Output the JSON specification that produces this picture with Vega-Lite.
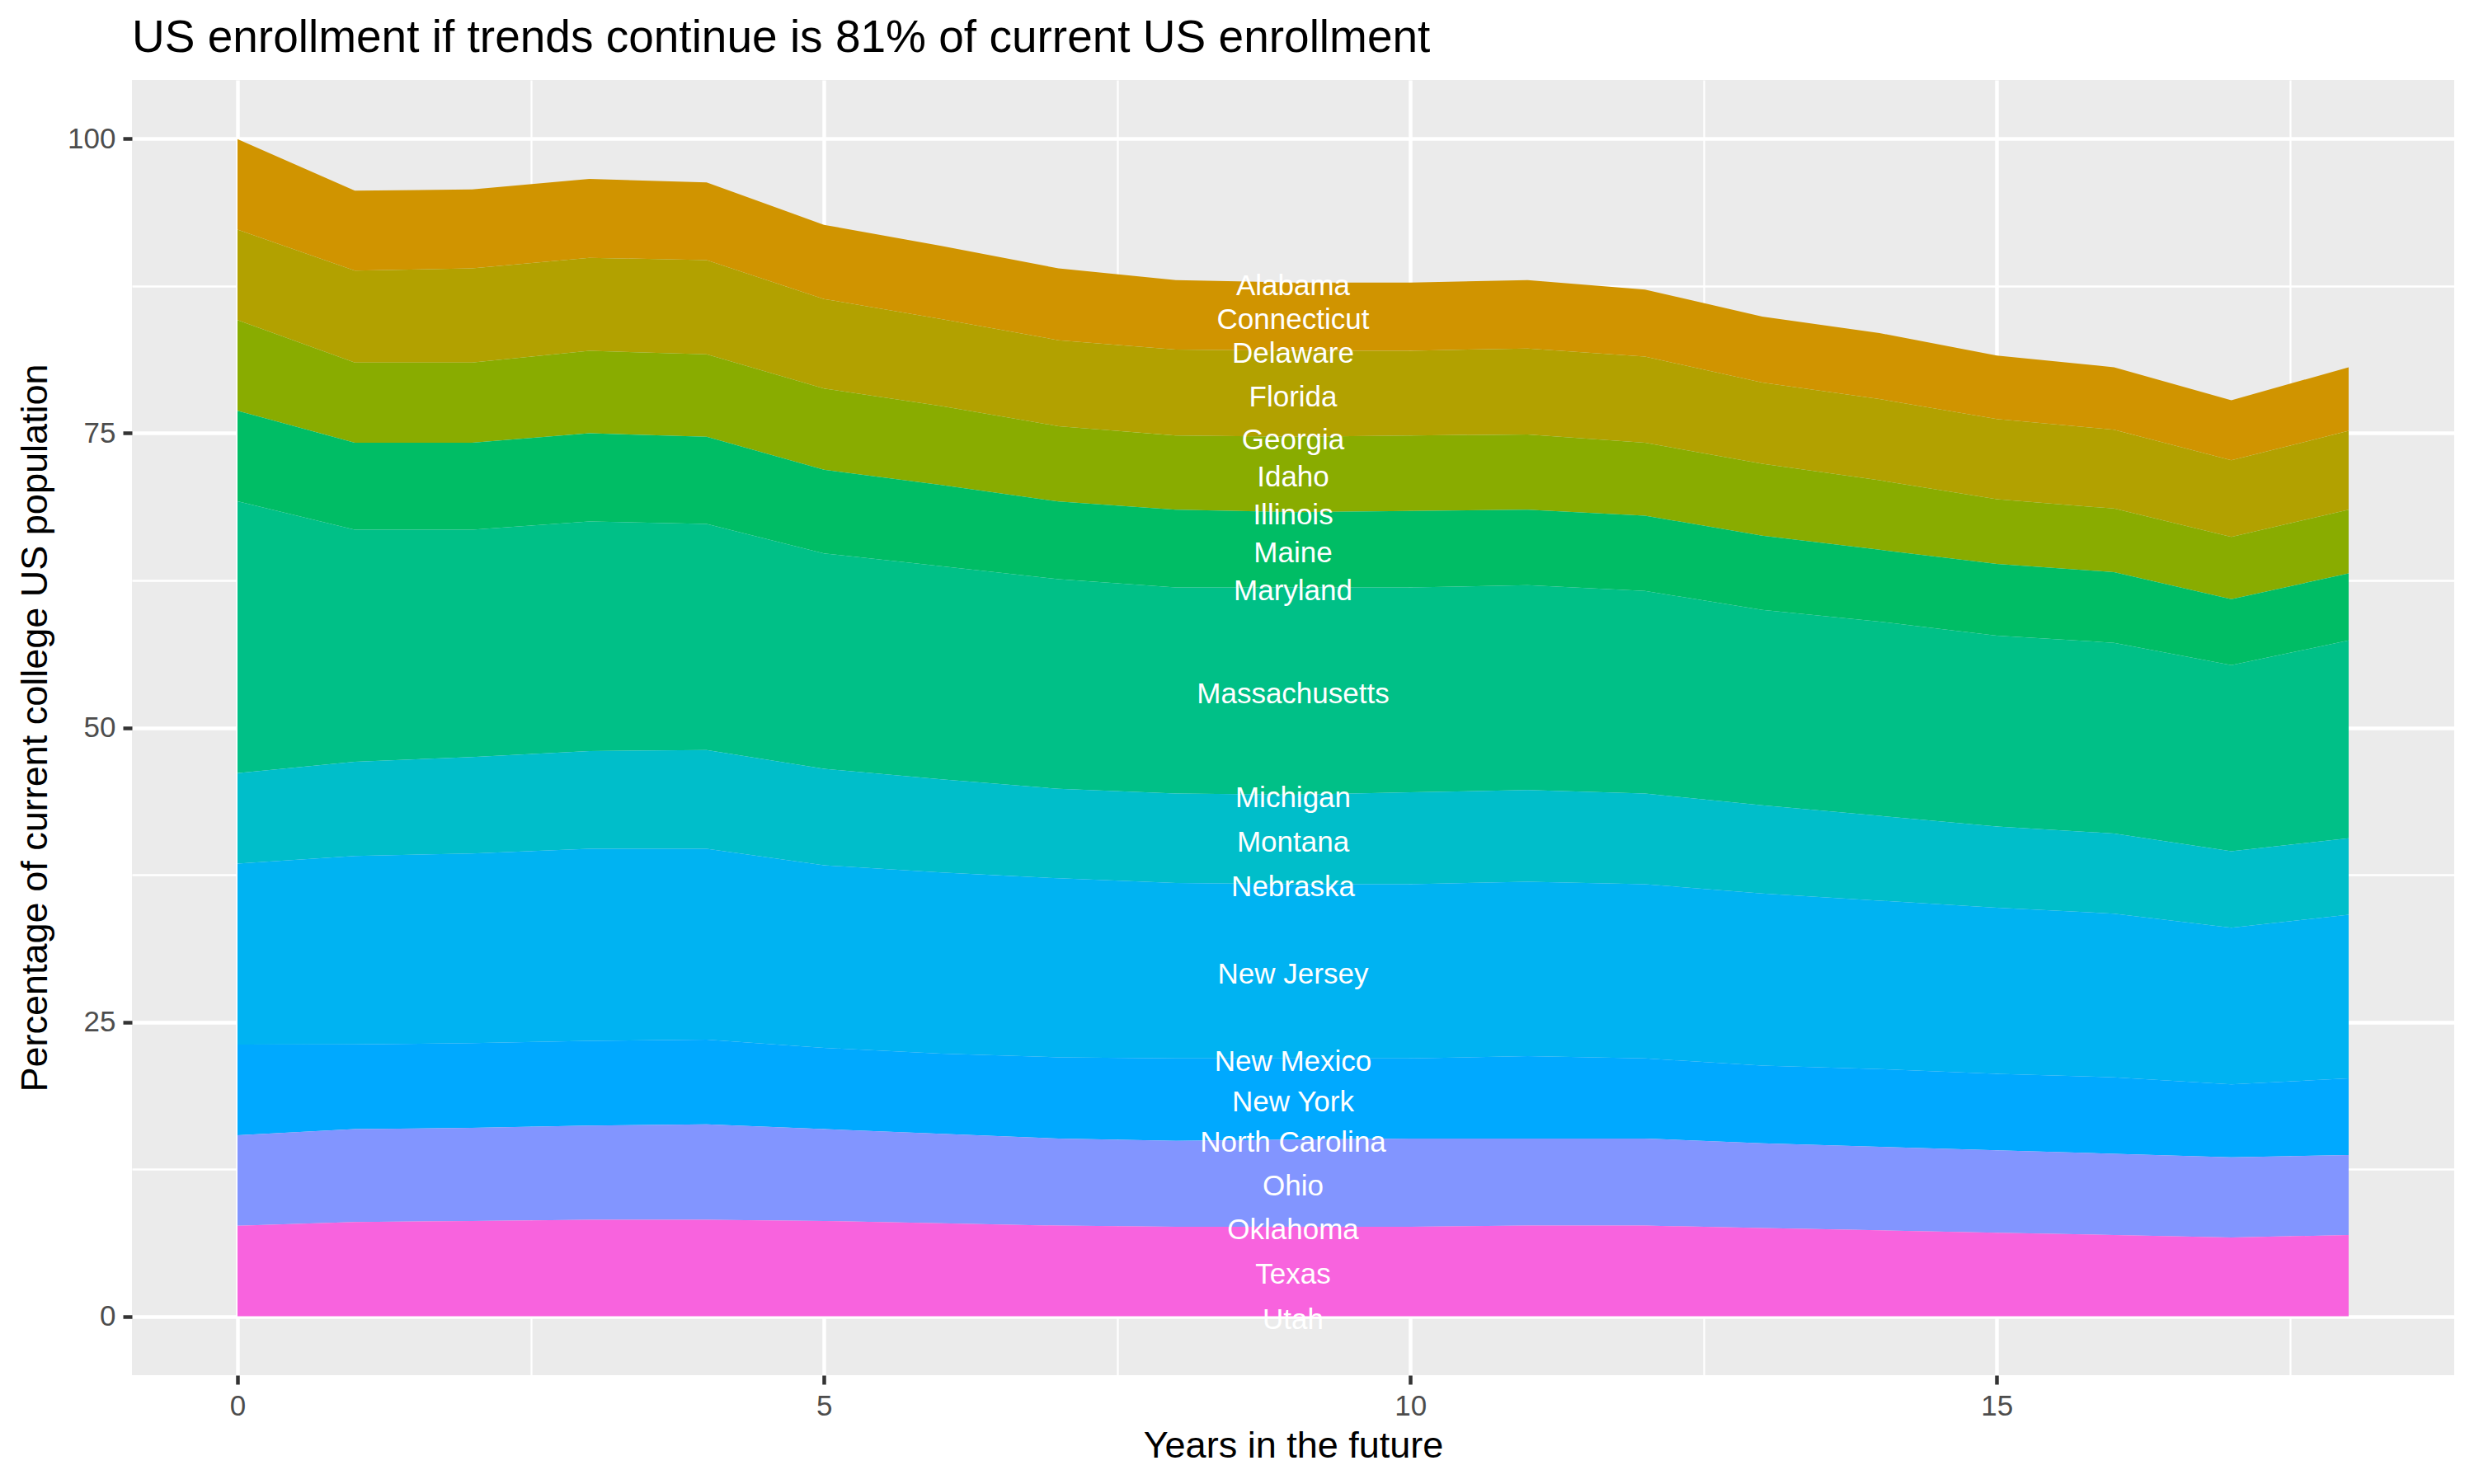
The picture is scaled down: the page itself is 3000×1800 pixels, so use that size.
{
  "$schema": "https://vega.github.io/schema/vega-lite/v6.json",
  "autosize": {"type": "none"},
  "padding": {"left": 160, "top": 97, "right": 24, "bottom": 132},
  "width": 2816,
  "height": 1571,
  "background": "white",
  "config": {"view": {"fill": "#EBEBEB", "stroke": null}},
  "title": {"text": "US enrollment if trends continue is 81% of current US enrollment", "anchor": "start", "frame": "group", "font": "Liberation Sans", "fontSize": 55, "fontWeight": "normal", "color": "black", "baseline": "alphabetic", "offset": -21},
  "datasets": {
    "enroll": [
      {"state": "Connecticut", "year": 0, "pct": 7.69}, {"state": "Connecticut", "year": 1, "pct": 6.8}, {"state": "Connecticut", "year": 2, "pct": 6.7}, {"state": "Connecticut", "year": 3, "pct": 6.7}, {"state": "Connecticut", "year": 4, "pct": 6.6}, {"state": "Connecticut", "year": 5, "pct": 6.3}, {"state": "Connecticut", "year": 6, "pct": 6.2}, {"state": "Connecticut", "year": 7, "pct": 6.1}, {"state": "Connecticut", "year": 8, "pct": 5.9}, {"state": "Connecticut", "year": 9, "pct": 5.8}, {"state": "Connecticut", "year": 10, "pct": 5.8}, {"state": "Connecticut", "year": 11, "pct": 5.8}, {"state": "Connecticut", "year": 12, "pct": 5.7}, {"state": "Connecticut", "year": 13, "pct": 5.6}, {"state": "Connecticut", "year": 14, "pct": 5.6}, {"state": "Connecticut", "year": 15, "pct": 5.4}, {"state": "Connecticut", "year": 16, "pct": 5.3}, {"state": "Connecticut", "year": 17, "pct": 5.1}, {"state": "Connecticut", "year": 18, "pct": 5.4},
      {"state": "Florida", "year": 0, "pct": 7.69}, {"state": "Florida", "year": 1, "pct": 7.8}, {"state": "Florida", "year": 2, "pct": 8.0}, {"state": "Florida", "year": 3, "pct": 7.9}, {"state": "Florida", "year": 4, "pct": 8.0}, {"state": "Florida", "year": 5, "pct": 7.6}, {"state": "Florida", "year": 6, "pct": 7.4}, {"state": "Florida", "year": 7, "pct": 7.3}, {"state": "Florida", "year": 8, "pct": 7.3}, {"state": "Florida", "year": 9, "pct": 7.3}, {"state": "Florida", "year": 10, "pct": 7.2}, {"state": "Florida", "year": 11, "pct": 7.3}, {"state": "Florida", "year": 12, "pct": 7.3}, {"state": "Florida", "year": 13, "pct": 6.9}, {"state": "Florida", "year": 14, "pct": 6.9}, {"state": "Florida", "year": 15, "pct": 6.8}, {"state": "Florida", "year": 16, "pct": 6.7}, {"state": "Florida", "year": 17, "pct": 6.5}, {"state": "Florida", "year": 18, "pct": 6.7},
      {"state": "Idaho", "year": 0, "pct": 7.69}, {"state": "Idaho", "year": 1, "pct": 6.8}, {"state": "Idaho", "year": 2, "pct": 6.8}, {"state": "Idaho", "year": 3, "pct": 7.0}, {"state": "Idaho", "year": 4, "pct": 7.0}, {"state": "Idaho", "year": 5, "pct": 6.9}, {"state": "Idaho", "year": 6, "pct": 6.7}, {"state": "Idaho", "year": 7, "pct": 6.4}, {"state": "Idaho", "year": 8, "pct": 6.3}, {"state": "Idaho", "year": 9, "pct": 6.4}, {"state": "Idaho", "year": 10, "pct": 6.4}, {"state": "Idaho", "year": 11, "pct": 6.4}, {"state": "Idaho", "year": 12, "pct": 6.2}, {"state": "Idaho", "year": 13, "pct": 6.1}, {"state": "Idaho", "year": 14, "pct": 5.9}, {"state": "Idaho", "year": 15, "pct": 5.5}, {"state": "Idaho", "year": 16, "pct": 5.4}, {"state": "Idaho", "year": 17, "pct": 5.3}, {"state": "Idaho", "year": 18, "pct": 5.4},
      {"state": "Maine", "year": 0, "pct": 7.69}, {"state": "Maine", "year": 1, "pct": 7.4}, {"state": "Maine", "year": 2, "pct": 7.4}, {"state": "Maine", "year": 3, "pct": 7.5}, {"state": "Maine", "year": 4, "pct": 7.4}, {"state": "Maine", "year": 5, "pct": 7.1}, {"state": "Maine", "year": 6, "pct": 6.9}, {"state": "Maine", "year": 7, "pct": 6.6}, {"state": "Maine", "year": 8, "pct": 6.6}, {"state": "Maine", "year": 9, "pct": 6.4}, {"state": "Maine", "year": 10, "pct": 6.5}, {"state": "Maine", "year": 11, "pct": 6.4}, {"state": "Maine", "year": 12, "pct": 6.4}, {"state": "Maine", "year": 13, "pct": 6.3}, {"state": "Maine", "year": 14, "pct": 6.1}, {"state": "Maine", "year": 15, "pct": 6.1}, {"state": "Maine", "year": 16, "pct": 6.0}, {"state": "Maine", "year": 17, "pct": 5.6}, {"state": "Maine", "year": 18, "pct": 5.7},
      {"state": "Massachusetts", "year": 0, "pct": 23.08}, {"state": "Massachusetts", "year": 1, "pct": 19.7}, {"state": "Massachusetts", "year": 2, "pct": 19.3}, {"state": "Massachusetts", "year": 3, "pct": 19.5}, {"state": "Massachusetts", "year": 4, "pct": 19.2}, {"state": "Massachusetts", "year": 5, "pct": 18.3}, {"state": "Massachusetts", "year": 6, "pct": 18.1}, {"state": "Massachusetts", "year": 7, "pct": 17.8}, {"state": "Massachusetts", "year": 8, "pct": 17.5}, {"state": "Massachusetts", "year": 9, "pct": 17.6}, {"state": "Massachusetts", "year": 10, "pct": 17.4}, {"state": "Massachusetts", "year": 11, "pct": 17.4}, {"state": "Massachusetts", "year": 12, "pct": 17.2}, {"state": "Massachusetts", "year": 13, "pct": 16.6}, {"state": "Massachusetts", "year": 14, "pct": 16.5}, {"state": "Massachusetts", "year": 15, "pct": 16.2}, {"state": "Massachusetts", "year": 16, "pct": 16.2}, {"state": "Massachusetts", "year": 17, "pct": 15.8}, {"state": "Massachusetts", "year": 18, "pct": 16.8},
      {"state": "Montana", "year": 0, "pct": 7.69}, {"state": "Montana", "year": 1, "pct": 8.0}, {"state": "Montana", "year": 2, "pct": 8.2}, {"state": "Montana", "year": 3, "pct": 8.3}, {"state": "Montana", "year": 4, "pct": 8.4}, {"state": "Montana", "year": 5, "pct": 8.2}, {"state": "Montana", "year": 6, "pct": 7.9}, {"state": "Montana", "year": 7, "pct": 7.6}, {"state": "Montana", "year": 8, "pct": 7.6}, {"state": "Montana", "year": 9, "pct": 7.6}, {"state": "Montana", "year": 10, "pct": 7.8}, {"state": "Montana", "year": 11, "pct": 7.8}, {"state": "Montana", "year": 12, "pct": 7.7}, {"state": "Montana", "year": 13, "pct": 7.5}, {"state": "Montana", "year": 14, "pct": 7.2}, {"state": "Montana", "year": 15, "pct": 6.9}, {"state": "Montana", "year": 16, "pct": 6.8}, {"state": "Montana", "year": 17, "pct": 6.5}, {"state": "Montana", "year": 18, "pct": 6.5},
      {"state": "New Jersey", "year": 0, "pct": 15.38}, {"state": "New Jersey", "year": 1, "pct": 16.0}, {"state": "New Jersey", "year": 2, "pct": 16.1}, {"state": "New Jersey", "year": 3, "pct": 16.3}, {"state": "New Jersey", "year": 4, "pct": 16.2}, {"state": "New Jersey", "year": 5, "pct": 15.5}, {"state": "New Jersey", "year": 6, "pct": 15.4}, {"state": "New Jersey", "year": 7, "pct": 15.2}, {"state": "New Jersey", "year": 8, "pct": 14.9}, {"state": "New Jersey", "year": 9, "pct": 14.8}, {"state": "New Jersey", "year": 10, "pct": 14.8}, {"state": "New Jersey", "year": 11, "pct": 14.8}, {"state": "New Jersey", "year": 12, "pct": 14.8}, {"state": "New Jersey", "year": 13, "pct": 14.6}, {"state": "New Jersey", "year": 14, "pct": 14.3}, {"state": "New Jersey", "year": 15, "pct": 14.1}, {"state": "New Jersey", "year": 16, "pct": 13.9}, {"state": "New Jersey", "year": 17, "pct": 13.3}, {"state": "New Jersey", "year": 18, "pct": 13.9},
      {"state": "New York", "year": 0, "pct": 7.69}, {"state": "New York", "year": 1, "pct": 7.2}, {"state": "New York", "year": 2, "pct": 7.2}, {"state": "New York", "year": 3, "pct": 7.2}, {"state": "New York", "year": 4, "pct": 7.2}, {"state": "New York", "year": 5, "pct": 6.9}, {"state": "New York", "year": 6, "pct": 6.8}, {"state": "New York", "year": 7, "pct": 6.9}, {"state": "New York", "year": 8, "pct": 7.0}, {"state": "New York", "year": 9, "pct": 6.9}, {"state": "New York", "year": 10, "pct": 6.8}, {"state": "New York", "year": 11, "pct": 7.0}, {"state": "New York", "year": 12, "pct": 6.8}, {"state": "New York", "year": 13, "pct": 6.6}, {"state": "New York", "year": 14, "pct": 6.6}, {"state": "New York", "year": 15, "pct": 6.5}, {"state": "New York", "year": 16, "pct": 6.5}, {"state": "New York", "year": 17, "pct": 6.2}, {"state": "New York", "year": 18, "pct": 6.5},
      {"state": "Ohio", "year": 0, "pct": 7.69}, {"state": "Ohio", "year": 1, "pct": 7.9}, {"state": "Ohio", "year": 2, "pct": 7.9}, {"state": "Ohio", "year": 3, "pct": 8.0}, {"state": "Ohio", "year": 4, "pct": 8.1}, {"state": "Ohio", "year": 5, "pct": 7.8}, {"state": "Ohio", "year": 6, "pct": 7.6}, {"state": "Ohio", "year": 7, "pct": 7.4}, {"state": "Ohio", "year": 8, "pct": 7.3}, {"state": "Ohio", "year": 9, "pct": 7.4}, {"state": "Ohio", "year": 10, "pct": 7.5}, {"state": "Ohio", "year": 11, "pct": 7.4}, {"state": "Ohio", "year": 12, "pct": 7.4}, {"state": "Ohio", "year": 13, "pct": 7.2}, {"state": "Ohio", "year": 14, "pct": 7.1}, {"state": "Ohio", "year": 15, "pct": 7.0}, {"state": "Ohio", "year": 16, "pct": 6.9}, {"state": "Ohio", "year": 17, "pct": 6.8}, {"state": "Ohio", "year": 18, "pct": 6.8},
      {"state": "Texas", "year": 0, "pct": 7.69}, {"state": "Texas", "year": 1, "pct": 8.0}, {"state": "Texas", "year": 2, "pct": 8.1}, {"state": "Texas", "year": 3, "pct": 8.2}, {"state": "Texas", "year": 4, "pct": 8.2}, {"state": "Texas", "year": 5, "pct": 8.1}, {"state": "Texas", "year": 6, "pct": 7.9}, {"state": "Texas", "year": 7, "pct": 7.7}, {"state": "Texas", "year": 8, "pct": 7.6}, {"state": "Texas", "year": 9, "pct": 7.6}, {"state": "Texas", "year": 10, "pct": 7.6}, {"state": "Texas", "year": 11, "pct": 7.7}, {"state": "Texas", "year": 12, "pct": 7.7}, {"state": "Texas", "year": 13, "pct": 7.5}, {"state": "Texas", "year": 14, "pct": 7.3}, {"state": "Texas", "year": 15, "pct": 7.1}, {"state": "Texas", "year": 16, "pct": 6.9}, {"state": "Texas", "year": 17, "pct": 6.7}, {"state": "Texas", "year": 18, "pct": 6.9},
      {"state": "Alabama", "year": 9, "pct": 0}, {"state": "Delaware", "year": 9, "pct": 0}, {"state": "Georgia", "year": 9, "pct": 0}, {"state": "Illinois", "year": 9, "pct": 0}, {"state": "Maryland", "year": 9, "pct": 0}, {"state": "Michigan", "year": 9, "pct": 0}, {"state": "Nebraska", "year": 9, "pct": 0}, {"state": "New Mexico", "year": 9, "pct": 0}, {"state": "North Carolina", "year": 9, "pct": 0}, {"state": "Oklahoma", "year": 9, "pct": 0}, {"state": "Utah", "year": 9, "pct": 0}
    ]
  },
  "data": {"name": "enroll"},
  "layer": [
    {
      "mark": {"type": "area", "interpolate": "linear"},
      "encoding": {
        "x": {
          "field": "year", "type": "quantitative", "title": "Years in the future",
          "scale": {"domain": [-0.9, 18.9], "nice": false, "zero": false},
          "axis": {
            "values": [0, 2.5, 5, 7.5, 10, 12.5, 15, 17.5],
            "format": "~g",
            "labelExpr": "datum.value % 5 === 0 ? datum.label : ''",
            "grid": true, "gridColor": "white",
            "gridWidth": {"condition": {"test": "datum.value % 5 === 0", "value": 4.5}, "value": 2.3},
            "tickColor": "#333333", "tickWidth": 4.5, "tickSize": 11,
            "tickOpacity": {"condition": {"test": "datum.value % 5 === 0", "value": 1}, "value": 0},
            "domain": false, "labelFlush": false, "labelOverlap": false,
            "labelFont": "Liberation Sans", "labelFontSize": 35, "labelColor": "#4D4D4D", "labelPadding": 9,
            "titleFont": "Liberation Sans", "titleFontSize": 45, "titleFontWeight": "normal", "titleColor": "black",
            "titleX": 1408, "titleY": 99, "titleBaseline": "alphabetic", "titleAlign": "center"
          }
        },
        "y": {
          "field": "pct", "type": "quantitative", "stack": "zero", "title": "Percentage of current college US population",
          "scale": {"domain": [-5, 105], "nice": false, "zero": false},
          "axis": {
            "values": [0, 12.5, 25, 37.5, 50, 62.5, 75, 87.5, 100],
            "format": "~g",
            "labelExpr": "datum.value % 25 === 0 ? datum.label : ''",
            "grid": true, "gridColor": "white",
            "gridWidth": {"condition": {"test": "datum.value % 25 === 0", "value": 4.5}, "value": 2.3},
            "tickColor": "#333333", "tickWidth": 4.5, "tickSize": 11,
            "tickOpacity": {"condition": {"test": "datum.value % 25 === 0", "value": 1}, "value": 0},
            "domain": false, "labelFlush": false, "labelOverlap": false,
            "labelFont": "Liberation Sans", "labelFontSize": 35, "labelColor": "#4D4D4D", "labelPadding": 9,
            "titleFont": "Liberation Sans", "titleFontSize": 45, "titleFontWeight": "normal", "titleColor": "black",
            "titleAngle": -90, "titleX": -104, "titleY": 785.5, "titleBaseline": "alphabetic", "titleAlign": "center"
          }
        },
        "order": {"field": "state", "type": "nominal", "sort": "descending"},
        "color": {
          "field": "state", "type": "nominal", "legend": null,
          "scale": {
            "domain": ["Alabama", "Connecticut", "Delaware", "Florida", "Georgia", "Idaho", "Illinois", "Maine", "Maryland", "Massachusetts", "Michigan", "Montana", "Nebraska", "New Jersey", "New Mexico", "New York", "North Carolina", "Ohio", "Oklahoma", "Texas", "Utah"],
            "range": ["#F8766D", "#D09400", "#C79800", "#B2A100", "#A5A500", "#89AC00", "#6BB100", "#00BD65", "#00BF7A", "#00C087", "#00C097", "#00BECA", "#00BBDA", "#00B3F2", "#00ADFA", "#00A9FF", "#56A0FF", "#8295FF", "#9B8EFF", "#F863DE", "#FF61D0"]
          }
        }
      }
    },
    {
      "transform": [
        {"filter": "datum.year === 9"},
        {"stack": "pct", "groupby": ["year"], "sort": [{"field": "state", "order": "descending"}], "as": ["lo", "hi"]},
        {"fold": ["lo", "hi"], "as": ["edge", "pos"]},
        {"aggregate": [{"op": "mean", "field": "pos", "as": "mid"}], "groupby": ["state", "year"]}
      ],
      "mark": {"type": "text", "font": "Liberation Sans", "fontSize": 35, "color": "white", "align": "center", "baseline": "middle", "dy": 4},
      "encoding": {
        "x": {"field": "year", "type": "quantitative", "title": "Years in the future"},
        "y": {"field": "mid", "type": "quantitative", "stack": null, "title": "Percentage of current college US population"},
        "text": {"field": "state", "type": "nominal"}
      }
    }
  ]
}
